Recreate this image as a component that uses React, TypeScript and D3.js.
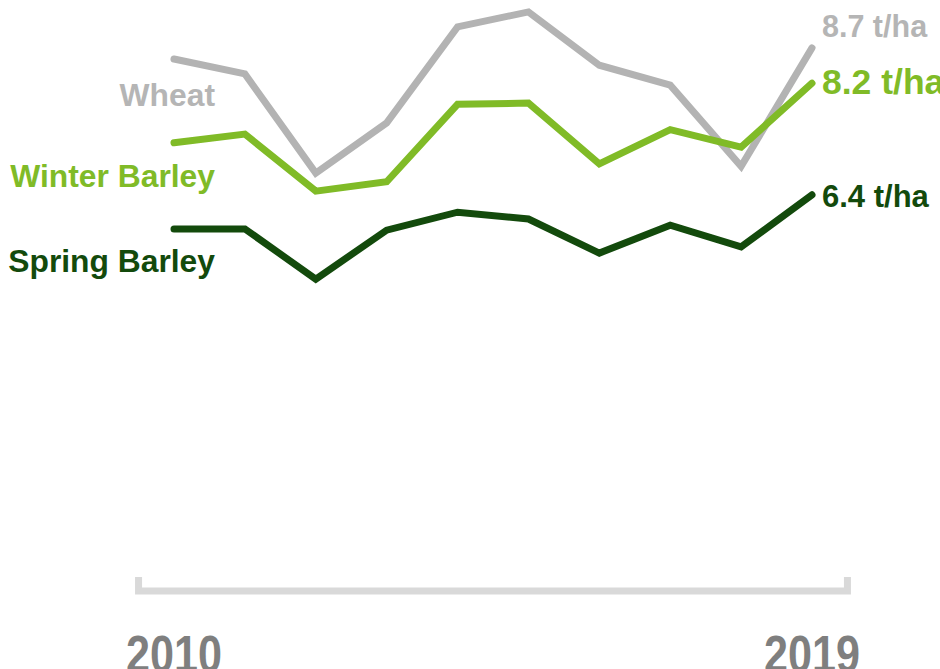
import { useEffect, useRef } from 'react';
import * as d3 from 'd3';

const years = [2010, 2011, 2012, 2013, 2014, 2015, 2016, 2017, 2018, 2019];
const wheat = [8.58, 8.34, 6.74, 7.55, 9.1, 9.34, 8.48, 8.16, 6.85, 8.76];
const winterBarley = [7.23, 7.37, 6.45, 6.6, 7.85, 7.87, 6.89, 7.44, 7.16, 8.19];
const springBarley = [5.84, 5.84, 5.03, 5.82, 6.11, 6.0, 5.45, 5.9, 5.55, 6.39];
const seriesNames = ['Wheat', 'Winter Barley', 'Spring Barley'];
const endLabels = ['8.7 t/ha', '8.2 t/ha', '6.4 t/ha'];
const axisLabels = ['2010', '2019'];

// label placement tweaks (px), kept apart from the data
const styles = [
  { color: '#b3b3b3', labelColor: '#b5b5b5', endSize: 30.5, endDy: -11, nameDy: 47 },
  { color: '#80bb27', labelColor: '#80bb27', endSize: 35.5, endDy: 11, nameDy: 44 },
  { color: '#134a0c', labelColor: '#134a0c', endSize: 31, endDy: 12, nameDy: 43 },
];

export default function App() {
  const svgRef = useRef<SVGSVGElement>(null);

  useEffect(() => {
    document.body.style.margin = '0';
    if (!svgRef.current) return;

    const width = 940;
    const height = 669;
    const svg = d3.select(svgRef.current);
    svg.selectAll('*').remove();
    svg.attr('width', width).attr('height', height);

    const x = d3.scaleLinear().domain([2010, 2019]).range([174, 812]);
    const y = d3.scaleLinear().domain([0, 10]).range([591, -29]);

    const font = "'Liberation Sans', Arial, sans-serif";
    const allSeries = [wheat, winterBarley, springBarley];

    // bracket-shaped x axis
    const x0 = x(2009.5);
    const x1 = x(2019.5);
    const yAxis = y(0);
    svg.append('path')
      .attr('d', `M${x0},${yAxis - 14} V${yAxis} H${x1} V${yAxis - 14}`)
      .attr('fill', 'none')
      .attr('stroke', '#d9d9d9')
      .attr('stroke-width', 7);

    // narrow bold year labels (no narrow font installed, so squeeze horizontally)
    svg.selectAll('text.year')
      .data(axisLabels)
      .join('text')
      .attr('class', 'year')
      .attr('transform', (d) => `translate(${x(+d)},672) scale(0.83,1)`)
      .attr('text-anchor', 'middle')
      .attr('fill', '#7f7f7f')
      .style('font-family', font)
      .style('font-weight', 'bold')
      .style('font-size', '52px')
      .text((d) => d);

    const line = d3.line<number>()
      .x((_, i) => x(years[i]))
      .y((d) => y(d));

    allSeries.forEach((values, i) => {
      const st = styles[i];
      svg.append('path')
        .datum(values)
        .attr('fill', 'none')
        .attr('stroke', st.color)
        .attr('stroke-width', 7)
        .attr('stroke-linecap', 'round')
        .attr('stroke-linejoin', 'miter')
        .attr('d', line);

      svg.append('text')
        .attr('x', x(years[0]) + 41)
        .attr('y', y(values[0]) + st.nameDy)
        .attr('text-anchor', 'end')
        .attr('fill', st.labelColor)
        .style('font-family', font)
        .style('font-weight', 'bold')
        .style('font-size', '31.8px')
        .text(seriesNames[i]);

      const last = values.length - 1;
      svg.append('text')
        .attr('x', x(years[last]) + 10)
        .attr('y', y(values[last]) + st.endDy)
        .attr('fill', st.labelColor)
        .style('font-family', font)
        .style('font-weight', 'bold')
        .style('font-size', `${st.endSize}px`)
        .text(endLabels[i]);
    });
  }, []);

  return <svg ref={svgRef} style={{ display: 'block' }} />;
}
